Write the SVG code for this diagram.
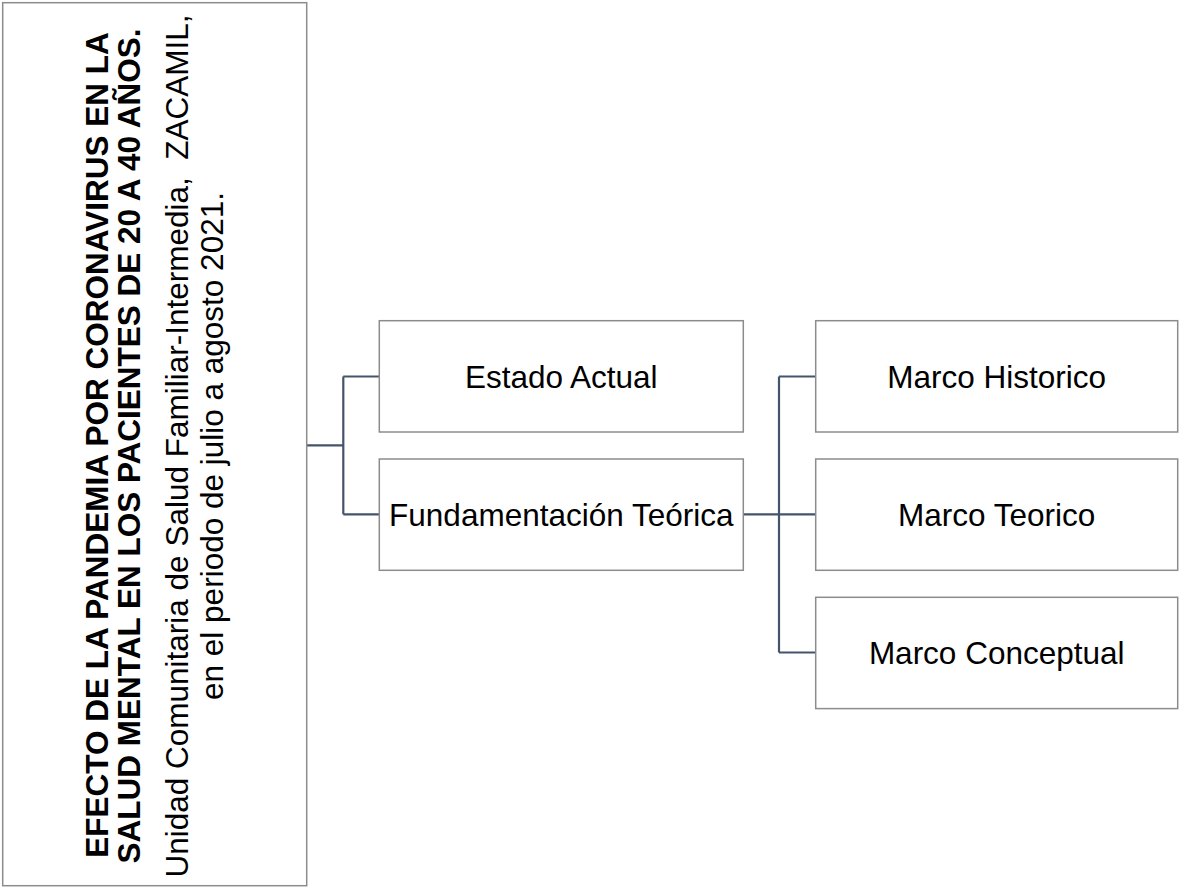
<svg xmlns="http://www.w3.org/2000/svg" width="1179" height="888" viewBox="0 0 1179 888">
<style>
.box{fill:#ffffff;stroke:#8c8c8c;stroke-width:1.5}
.lbl{font-family:"Liberation Sans",Arial,sans-serif;font-size:31.5px;fill:#000000;text-anchor:middle}
.b{font-weight:bold}
.conn{fill:none;stroke:#44546a;stroke-width:2.2}
</style>
<rect width="1179" height="888" fill="#ffffff"/>
<g id="connectors">
<path class="conn" d="M306.7,445.3 H343.3 M343.3,376.5 V514.3 M343.3,376.5 H379.3 M343.3,514.3 H379.3"/>
<path class="conn" d="M743.3,514.3 H779 M779,376.5 V652.5 M779,376.5 H815.7 M779,514.3 H815.7 M779,652.5 H815.7"/>
</g>
<g id="root">
<rect class="box" x="2.7" y="2.7" width="304" height="883"/>
<g transform="rotate(-90)">
<text class="lbl b" x="-445" y="107.5">EFECTO DE LA PANDEMIA POR CORONAVIRUS EN LA</text>
<text class="lbl b" x="-446" y="139.5">SALUD MENTAL EN LOS PACIENTES DE 20 A 40 AÑOS.</text>
<text class="lbl" x="-446" y="188.3" xml:space="preserve">Unidad Comunitaria de Salud Familiar-Intermedia,  ZACAMIL,</text>
<text class="lbl" x="-446" y="222.5">en el periodo de julio a agosto 2021.</text>
</g>
</g>
<g id="estado-actual">
<rect class="box" x="379.3" y="320.7" width="364" height="111.3"/>
<text class="lbl" x="561.3" y="387.7">Estado Actual</text>
</g>
<g id="fundamentacion">
<rect class="box" x="379.3" y="459" width="364" height="111.3"/>
<text class="lbl" x="561.3" y="526">Fundamentación Teórica</text>
</g>
<g id="marco-historico">
<rect class="box" x="815.7" y="320.7" width="362" height="111.3"/>
<text class="lbl" x="996.7" y="387.7">Marco Historico</text>
</g>
<g id="marco-teorico">
<rect class="box" x="815.7" y="459" width="362" height="111.3"/>
<text class="lbl" x="996.7" y="526">Marco Teorico</text>
</g>
<g id="marco-conceptual">
<rect class="box" x="815.7" y="597.3" width="362" height="111.3"/>
<text class="lbl" x="996.7" y="664.3">Marco Conceptual</text>
</g>
</svg>
